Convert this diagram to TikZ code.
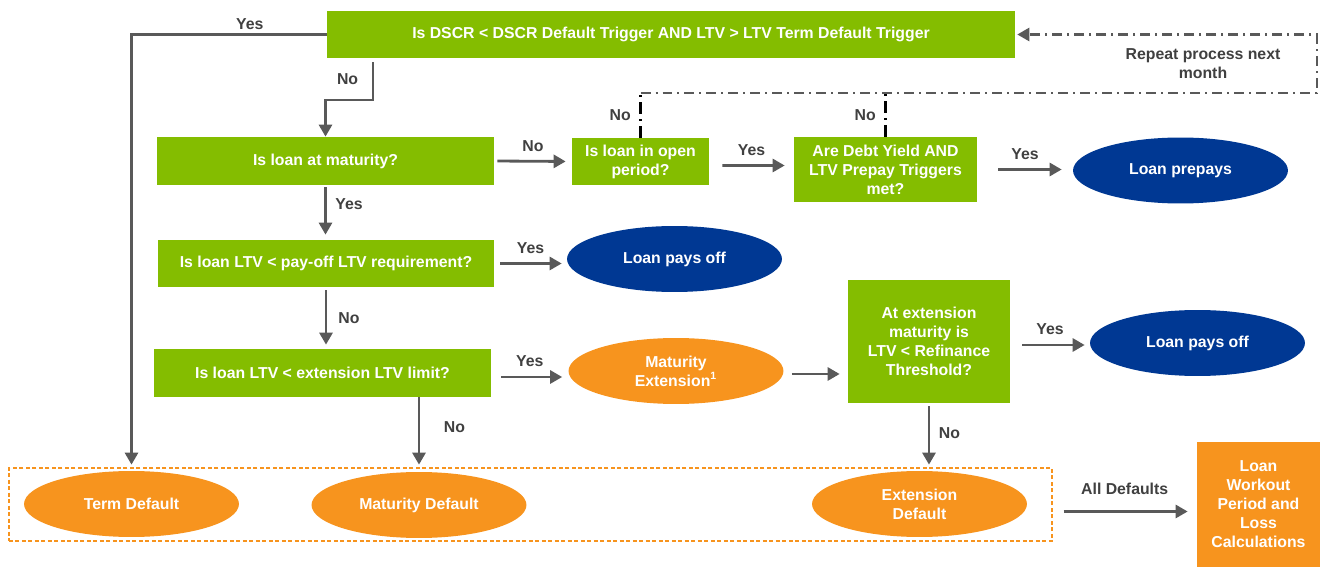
\documentclass[tikz,border=0pt]{standalone}
\usepackage{fontspec}
\setmainfont{Liberation Sans}
\usepackage{xcolor}
\usepackage{tikz}
\usetikzlibrary{shapes,calc,fit}
\usetikzlibrary{arrows.meta,positioning}

\definecolor{qgreen}{RGB}{132,189,0}
\definecolor{qblue}{RGB}{0,56,147}
\definecolor{qorange}{RGB}{247,148,30}
\definecolor{arrowgray}{RGB}{89,89,89}
\definecolor{labelgray}{RGB}{64,64,64}

\newcommand\qfont{\fontsize{9}{10.8}\selectfont\bfseries}

\tikzset{
question/.style={
  fill=qgreen,
  text=white,
  font=\qfont,
  align=center,
  inner sep=0pt
  },
outcome/.style={
  ellipse,
  fill=qblue,
  text=white,
  font=\qfont,
  align=center,
  inner sep=0pt,
  minimum width=4.3cm,
  minimum height=1.32cm
  },
defaultnode/.style={outcome, fill=qorange},
flow/.style={->, draw=arrowgray, line width=1.6pt},
lbl/.style={text=labelgray, font=\qfont, inner sep=2pt},
repeatline/.style={
  draw=arrowgray,
  line width=1.5pt,
  dash pattern=on 0.2cm off 0.1cm on 0.04cm off 0.1cm
  },
loopdrop/.style={
  draw=black,
  line width=1.5pt,
  dash pattern=on 0.24cm off 0.1cm on 0.04cm off 0.1cm
  }
}

\begin{document}
\begin{tikzpicture}[x=0.02cm, y=-0.02cm, >={Triangle[length=0.24cm,width=0.26cm]}]
\useasboundingbox (0,0) rectangle (1330,567);
% the shapes
\node[question, minimum width=13.76cm, minimum height=0.94cm]
  at (671,34.5) (dscr)
  {Is DSCR < DSCR Default Trigger AND LTV > LTV Term Default Trigger};
\node[question, minimum width=6.74cm, minimum height=0.96cm]
  at (325.5,161) (maturity) {Is loan at maturity?};
\node[question, minimum width=2.74cm, minimum height=0.94cm]
  at (640.5,161.5) (openp) {Is loan in open\\period?};
\node[question, minimum width=3.66cm, minimum height=1.3cm]
  at (885.5,169.5) (prepayq) {Are Debt Yield AND\\LTV Prepay Triggers\\met?};
\node[outcome] at (1180.5,170.5) (prepays) {Loan prepays};
\node[question, minimum width=6.72cm, minimum height=0.94cm]
  at (326,263.5) (payoffq) {Is loan LTV < pay-off LTV requirement?};
\node[outcome] at (674.5,259) (paysoff) {Loan pays off};
\node[question, minimum width=6.74cm, minimum height=0.96cm]
  at (322.5,373) (extq) {Is loan LTV < extension LTV limit?};
\node[defaultnode] at (676,371) (matext) {Maturity\\Extension\textsuperscript{1}};
\node[question, minimum width=3.24cm, minimum height=2.46cm]
  at (929,341.5) (refiq) {At extension\\maturity is\\LTV < Refinance\\Threshold?};
\node[outcome] at (1197.5,343) (paysoff2) {Loan pays off};
\node[defaultnode] at (131.5,504) (termdef) {Term Default};
\node[defaultnode] at (419,505) (matdef) {Maturity Default};
\node[defaultnode] at (919.5,504) (extdef) {Extension\\Default};
\path
  (9,468) coordinate (aux1)
  (1052,541) coordinate (aux2);
\node[draw=qorange, line width=0.8pt, dash pattern=on 0.08cm off 0.05cm,
  inner sep=0pt, fit={(aux1) (aux2)}] (defaults) {};
\node[question, fill=qorange, minimum width=2.46cm, minimum height=2.5cm]
  at (1258.5,504.5) (workout) {Loan\\Workout\\Period and\\Loss\\Calculations};
\node[lbl, align=center] at (1203,64) (repeat) {Repeat process next\\month};

%the arrows
\coordinate (nobend) at (373,100);
\draw[flow, shorten >=0.12cm]
  (dscr.west) -|
    node[lbl, above, pos=0.197] (yes0) {Yes}
  (termdef.north);
\draw[flow, shorten <=0.08cm]
  (dscr.south -| nobend) --
    node[lbl, left=0.2cm] (no0) {No}
  (nobend) -| (maturity.north);
\draw[flow, shorten <=0.06cm, shorten >=0.12cm]
  (maturity.east) --
    node[lbl, above=0.1cm] (no1) {No}
  (openp.west);
\draw[flow, shorten <=0.26cm, shorten >=0.18cm]
  ([yshift=-0.08cm]openp.east) --
    node[lbl, above=0.1cm] (yes1) {Yes}
  ([yshift=0.08cm]prepayq.west);
\draw[flow, shorten <=0.42cm, shorten >=0.22cm]
  (prepayq.east) --
    node[lbl, above=0.1cm] (yes2) {Yes}
  (prepayq.east -| prepays.west);
\draw[flow, shorten <=0.04cm, shorten >=0.1cm]
  (maturity.south) --
    node[lbl, right=0.1cm, pos=0.35] (yes3) {Yes}
  (maturity.south |- payoffq.north);
\draw[flow, shorten <=0.12cm, shorten >=0.1cm]
  (payoffq.east) --
    node[lbl, above=0.1cm] (yes4) {Yes}
  (payoffq.east -| paysoff.west);
\draw[flow, shorten <=0.06cm, shorten >=0.08cm]
  (payoffq.south) --
    node[lbl, right=0.15cm] (no2) {No}
  (payoffq.south |- extq.north);
\draw[flow, shorten <=0.2cm, shorten >=0.12cm]
  ([yshift=-0.08cm]extq.east) --
    node[lbl, above=0.1cm] (yes5) {Yes}
  ([yshift=-0.08cm]extq.east -| matext.west);
\draw[flow, shorten <=0.16cm, shorten >=0.16cm]
  ([yshift=-0.06cm]matext.east) -- ([yshift=-0.06cm]matext.east -| refiq.west);
\draw[flow, shorten <=0.24cm, shorten >=0.1cm]
  ([yshift=-0.07cm]refiq.east) --
    node[lbl, above=0.1cm] (yes6) {Yes}
  ([yshift=-0.07cm]refiq.east -| paysoff2.west);
\draw[flow, shorten <=0.06cm, shorten >=0.12cm]
  (refiq.south) --
    node[lbl, right=0.1cm, pos=0.45] (no3) {No}
  (refiq.south |- extdef.north);
\draw[flow, shorten >=0.14cm]
  (extq.south -| matdef.north) --
    node[lbl, right=0.4cm, pos=0.4] (no4) {No}
  (matdef.north);
\draw[flow, shorten <=0.22cm, shorten >=0.18cm]
  ([yshift=-0.14cm]defaults.east) --
    node[lbl, above=0.24cm] (alldef) {All Defaults}
  ([yshift=-0.14cm]defaults.east -| workout.west);

% repeat loop
\coordinate (loopl) at (640.5,93);
\coordinate (loopr) at (1317,93);
\draw[loopdrop]
  (openp.north) --
    node[lbl, left=0.1cm] (no5) {No}
  (loopl);
\draw[loopdrop]
  (prepayq.north) --
    node[lbl, left=0.1cm] (no6) {No}
  (prepayq.north |- loopl);
\draw[repeatline, ->, shorten >=0.04cm]
  (loopl) -- (loopr) |- (dscr.east);
\end{tikzpicture}
\end{document}
